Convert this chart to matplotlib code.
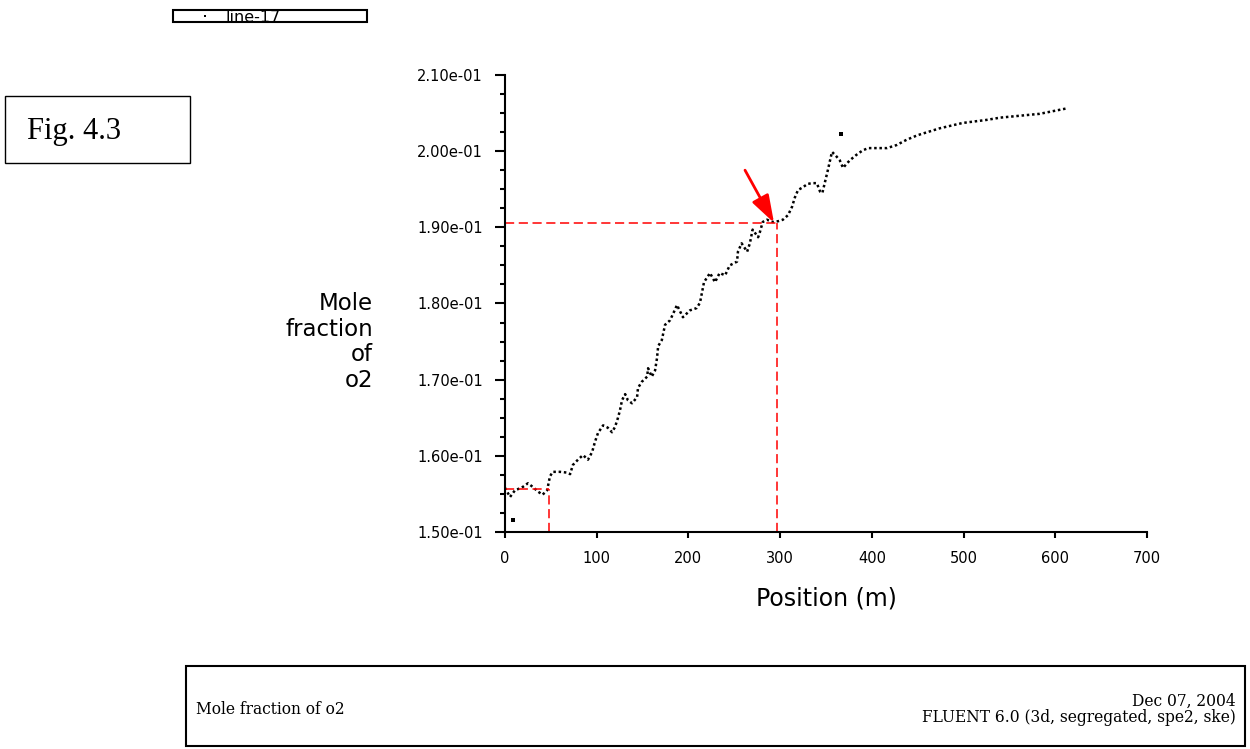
"""Mole fraction of o2 along line-17 (FLUENT 6.0 export), redrawn with matplotlib."""

import matplotlib
matplotlib.use("Agg")
import matplotlib.pyplot as plt
from matplotlib.patches import Rectangle
from matplotlib.lines import Line2D
from matplotlib.ticker import FormatStrFormatter, MultipleLocator

position = [
    0, 5.5, 11, 18, 25, 30.5, 36, 41, 46, 49, 52, 60, 67.6, 71, 74, 79.6, 85,
    90.5, 95, 98, 101.4, 107, 112, 116.7, 120, 123.2, 125.4, 127.6, 131, 134,
    138.5, 144, 145, 149, 155, 156, 160, 163.6, 165.7, 167, 171, 174.5, 180,
    185, 187.5, 194, 201.7, 209, 212.6, 217, 223.5, 229, 234, 240, 245, 253,
    254, 258, 264, 267, 270, 276, 278, 281, 285.6, 292, 297.7, 303, 308.6,
    313, 316, 319.5, 324, 330, 335, 340, 343.5, 346, 349, 352, 356.5, 360,
    365, 368.6, 372.9, 376, 383, 390, 396, 409, 416.5, 427, 438, 450, 474,
    499, 525, 540, 583, 612,
]
mole_fraction = [
    0.1558, 0.1546, 0.1555, 0.1558, 0.1564, 0.1559, 0.1553, 0.1549, 0.1555,
    0.1573, 0.1579, 0.1579, 0.1578, 0.1576, 0.1588, 0.1595, 0.1601, 0.1595,
    0.1605, 0.1618, 0.1630, 0.1640, 0.1637, 0.1631, 0.1638, 0.1650, 0.1660,
    0.1673, 0.1681, 0.1673, 0.1669, 0.1677, 0.1689, 0.1697, 0.1704, 0.1715,
    0.1704, 0.1712, 0.1728, 0.1744, 0.1752, 0.1772, 0.1778, 0.1791, 0.1798,
    0.1782, 0.1791, 0.1794, 0.1801, 0.1828, 0.1840, 0.1828, 0.1840, 0.1837,
    0.1850, 0.1855, 0.1868, 0.1879, 0.1868, 0.1879, 0.1897, 0.1887, 0.1894,
    0.1907, 0.1910, 0.1907, 0.1908, 0.1910, 0.1916, 0.1927, 0.1939, 0.1949,
    0.1952, 0.1957, 0.1958, 0.1958, 0.1947, 0.1945, 0.1960, 0.1975, 0.1999,
    0.1995, 0.1988, 0.1978, 0.1984, 0.1988, 0.1995, 0.2001, 0.2004, 0.2004,
    0.2004, 0.2008, 0.2015, 0.2021, 0.2030, 0.2037, 0.2041, 0.2044, 0.2049,
    0.2056,
]
# Stray samples that sit off the curve.
stray_position = [8.4, 366]
stray_fraction = [0.1516, 0.2023]

# Red guide lines and arrow (marked reading).
inlet_mark = (48, 0.1557)
reading_mark = (297, 0.1906)
arrow_tail = (261.7, 0.1975)
arrow_tip = (293.3, 0.1906)

SANS = "DejaVu Sans"
SERIF = "Liberation Serif"
BLOCK = "DejaVu Serif"

fig = plt.figure(figsize=(12.5, 7.49), dpi=100)
ax = fig.add_axes([0.404, 0.2897, 0.5136, 0.6102])

ax.plot(position, mole_fraction, color="black", lw=1.8,
        linestyle=(0, (1, 1.1)), dash_capstyle="butt")
ax.plot(stray_position, stray_fraction, "s", color="black", ms=2.2, mew=0)

# guide lines
red = dict(color="#ff0000", lw=1.1, linestyle=(0, (6, 3)))
ax.plot([0, inlet_mark[0]], [inlet_mark[1], inlet_mark[1]], **red)
ax.plot([inlet_mark[0], inlet_mark[0]], [0.15, inlet_mark[1]], **red)
ax.plot([0, reading_mark[0]], [reading_mark[1], reading_mark[1]], **red)
ax.plot([reading_mark[0], reading_mark[0]], [0.15, reading_mark[1]], **red)
ax.annotate("", xy=arrow_tip, xytext=arrow_tail,
            arrowprops=dict(arrowstyle="-|>,head_length=0.6,head_width=0.2",
                            color="#ff0000", lw=2, mutation_scale=28,
                            shrinkA=0, shrinkB=0))

ax.set_xlim(0, 700)
ax.set_ylim(0.15, 0.21)
ax.xaxis.set_major_locator(MultipleLocator(100))
ax.yaxis.set_major_locator(MultipleLocator(0.01))
ax.yaxis.set_minor_locator(MultipleLocator(0.0025))
ax.yaxis.set_major_formatter(FormatStrFormatter("%.2e"))
for side in ("top", "right"):
    ax.spines[side].set_visible(False)
for side in ("left", "bottom"):
    ax.spines[side].set_linewidth(1.5)
ax.tick_params(axis="y", which="major", length=7, width=1.5, pad=9,
               labelsize=10.5)
ax.tick_params(axis="y", which="minor", length=3.6, width=1.5)
ax.tick_params(axis="x", which="major", length=4, width=1.5, pad=10,
               labelsize=10.5)
for lab in ax.get_xticklabels() + ax.get_yticklabels():
    lab.set_fontfamily(SANS)

ax.set_xlabel("Position (m)", fontsize=17, family=SANS, labelpad=14.5)
fig.text(0.2984, 0.5434, "Mole\nfraction\nof\no2", ha="right", va="center",
         multialignment="right", fontsize=16.5, family=SANS, linespacing=1.16)

# legend strip at the top
fig.patches.append(Rectangle((0.1384, 0.9706), 0.1552, 0.016, transform=fig.transFigure,
                             fill=False, edgecolor="black", lw=1.5))
fig.lines.append(Line2D([0.164], [0.9786], transform=fig.transFigure, marker="s",
                        ms=1.6, color="black", mew=0))
fig.text(0.1808, 0.9768, "line-17", ha="left", va="center", fontsize=11.5, family=SANS)

# figure tag box
fig.patches.append(Rectangle((0.004, 0.7824), 0.148, 0.0895, transform=fig.transFigure,
                             fill=False, edgecolor="black", lw=1.0))
fig.text(0.0216, 0.8251, "Fig. 4.3", ha="left", va="center", fontsize=22, family=SERIF)

# title block at the bottom
fig.patches.append(Rectangle((0.1488, 0.004), 0.8472, 0.1068, transform=fig.transFigure,
                             fill=False, edgecolor="black", lw=1.5))
fig.text(0.1568, 0.0534, "Mole fraction of o2", ha="left", va="center",
         fontsize=11.2, family=BLOCK)
fig.text(0.9888, 0.0641, "Dec 07, 2004", ha="right", va="center",
         fontsize=11.2, family=BLOCK)
fig.text(0.9888, 0.0414, "FLUENT 6.0 (3d, segregated, spe2, ske)", ha="right",
         va="center", fontsize=11.2, family=BLOCK)

fig.savefig("out.png", dpi=100)
